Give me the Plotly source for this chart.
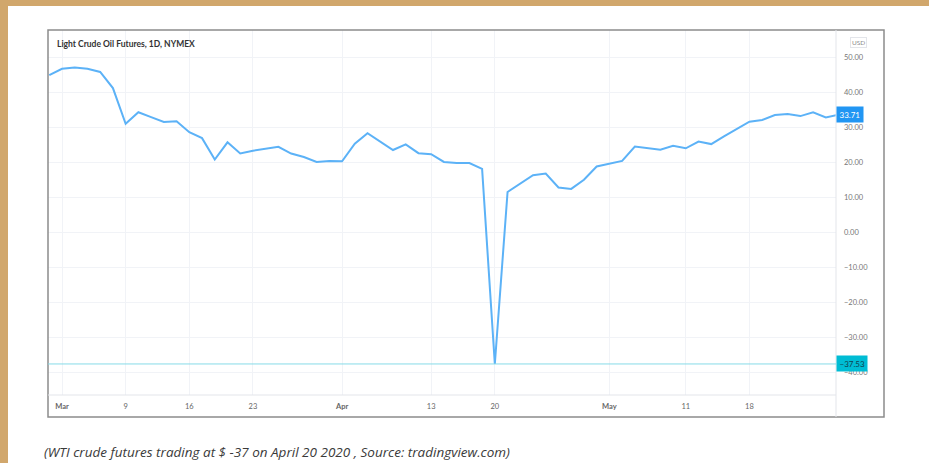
import plotly.graph_objects as go

dates = [
    "2020-02-28",
    "2020-03-02", "2020-03-03", "2020-03-04", "2020-03-05", "2020-03-06",
    "2020-03-09", "2020-03-10", "2020-03-11", "2020-03-12", "2020-03-13",
    "2020-03-16", "2020-03-17", "2020-03-18", "2020-03-19", "2020-03-20",
    "2020-03-23", "2020-03-24", "2020-03-25", "2020-03-26", "2020-03-27",
    "2020-03-30", "2020-03-31", "2020-04-01", "2020-04-02", "2020-04-03",
    "2020-04-06", "2020-04-07", "2020-04-08", "2020-04-09",
    "2020-04-13", "2020-04-14", "2020-04-15", "2020-04-16", "2020-04-17",
    "2020-04-20", "2020-04-21", "2020-04-22", "2020-04-23", "2020-04-24",
    "2020-04-27", "2020-04-28", "2020-04-29", "2020-04-30", "2020-05-01",
    "2020-05-04", "2020-05-05", "2020-05-06", "2020-05-07", "2020-05-08",
    "2020-05-11", "2020-05-12", "2020-05-13", "2020-05-14", "2020-05-15",
    "2020-05-18", "2020-05-19", "2020-05-20", "2020-05-21", "2020-05-22",
    "2020-05-26", "2020-05-27", "2020-05-28",
]
prices = [
    45.0,
    46.8, 47.2, 46.8, 45.9, 41.3,
    31.1, 34.4, 33.0, 31.6, 31.8,
    28.7, 27.0, 20.9, 25.8, 22.6,
    23.4, 24.0, 24.5, 22.6, 21.6,
    20.2, 20.5, 20.4, 25.4, 28.4,
    26.0, 23.6, 25.2, 22.7,
    22.4, 20.2, 19.9, 19.9, 18.2,
    -37.53, 11.6, 13.9, 16.4, 16.9,
    12.9, 12.5, 15.1, 18.9, 19.8,
    20.5, 24.6, 24.1, 23.7, 24.8,
    24.1, 26.0, 25.3, 27.5, 29.5,
    31.7, 32.2, 33.6, 33.9, 33.3,
    34.4, 32.9, 33.71,
]
tick_dates = ["2020-03-02", "2020-03-09", "2020-03-16", "2020-03-23", "2020-04-01",
              "2020-04-13", "2020-04-20", "2020-05-01", "2020-05-11", "2020-05-18"]
tick_labels = ["<b>Mar</b>", "9", "16", "23", "<b>Apr</b>", "13", "20", "<b>May</b>", "11", "18"]
y_ticks = [50, 40, 30, 20, 10, 0, -10, -20, -30, -40]

title_text = "Light Crude Oil Futures, 1D, NYMEX"
caption_text = "(WTI crude futures trading at $ -37 on April 20 2020 , Source: tradingview.com)"

W, H = 929, 463
L, R, T, B = 48, 836, 30, 395
pw, ph = R - L, B - T

def px(x):
    return (x - L) / pw

def py(y):
    return (B - y) / ph

last_val = prices[-1]
min_val = min(prices)

fig = go.Figure()
fig.add_trace(go.Scatter(
    x=dates, y=prices, mode="lines",
    line=dict(color="#5cb2f7", width=2),
    hoverinfo="x+y", showlegend=False,
))

shapes = [
    # white card
    dict(type="rect", xref="paper", yref="paper", x0=px(8), x1=px(W + 20), y0=py(H + 20), y1=py(6),
         fillcolor="white", line=dict(width=0), layer="below"),
    # chart frame
    dict(type="rect", xref="paper", yref="paper", x0=0, x1=px(884), y0=py(417), y1=1,
         fillcolor="rgba(0,0,0,0)", line=dict(color="#8c8c8c", width=1.5)),
    # price scale separator
    dict(type="line", xref="paper", yref="paper", x0=1, x1=1, y0=py(417), y1=1,
         line=dict(color="#e3e5ea", width=1)),
    # time scale separator
    dict(type="line", xref="paper", yref="paper", x0=0, x1=1, y0=0, y1=0,
         line=dict(color="#e3e5ea", width=1)),
    # minimum price line
    dict(type="line", xref="paper", yref="y", x0=0, x1=1, y0=min_val, y1=min_val,
         line=dict(color="#86dbe8", width=1)),
]

annotations = [
    dict(text=title_text, xref="paper", yref="paper", x=px(55), y=py(44),
         xanchor="left", yanchor="middle", showarrow=False,
         font=dict(family="Lato", size=8.5, color="#333333", weight="bold")),
    dict(text="USD", xref="paper", yref="paper", x=px(858), y=py(43),
         xanchor="center", yanchor="middle", showarrow=False, bgcolor="white",
         bordercolor="#e3e5ea", borderwidth=1, borderpad=1,
         font=dict(family="Lato", size=6.5, color="#8a8a8a")),
    dict(text=f"{last_val:.2f}", xref="paper", yref="y", x=1, y=last_val,
         xanchor="left", yanchor="middle", showarrow=False, bgcolor="#2196f3",
         borderpad=2.5, font=dict(family="Lato", size=8, color="white")),
    dict(text=f"{min_val:.2f}".replace("-", "\u2212"), xref="paper", yref="y", x=1, y=min_val,
         xanchor="left", yanchor="middle", showarrow=False, bgcolor="#00bcd4",
         borderpad=2.5, font=dict(family="Lato", size=8, color="#12404e")),
    dict(text=caption_text, xref="paper", yref="paper", x=px(42), y=py(452),
         xanchor="left", yanchor="middle", showarrow=False,
         font=dict(family="Open Sans", size=13.5, color="#3a3a3a", style="italic")),
]

fig.update_layout(
    width=W, height=H,
    margin=dict(l=L, r=W - R, t=T, b=H - B, pad=0),
    paper_bgcolor="#d1a76c",
    plot_bgcolor="white",
    shapes=shapes,
    annotations=annotations,
    xaxis=dict(
        type="category", range=[-0.1, 61.8],
        tickmode="array", tickvals=tick_dates, ticktext=tick_labels,
        showgrid=True, gridcolor="#f1f3f7", gridwidth=1,
        ticks="", ticklabelstandoff=5, zeroline=False, showline=False,
        tickfont=dict(family="Lato", size=7.5, color="#666666"),
    ),
    yaxis=dict(
        side="right", range=[-46.4, 57.9],
        tickmode="array", tickvals=y_ticks, tickformat=".2f",
        showgrid=True, gridcolor="#f1f3f7", gridwidth=1,
        ticks="", ticklabelstandoff=7, zeroline=False, showline=False,
        tickfont=dict(family="Lato", size=7.5, color="#777777"),
    ),
)

fig.write_html(
    "out.html",
    config={"displayModeBar": False},
    post_script="document.body.style.margin='0';document.body.style.padding='0';document.body.style.overflow='hidden';",
)
